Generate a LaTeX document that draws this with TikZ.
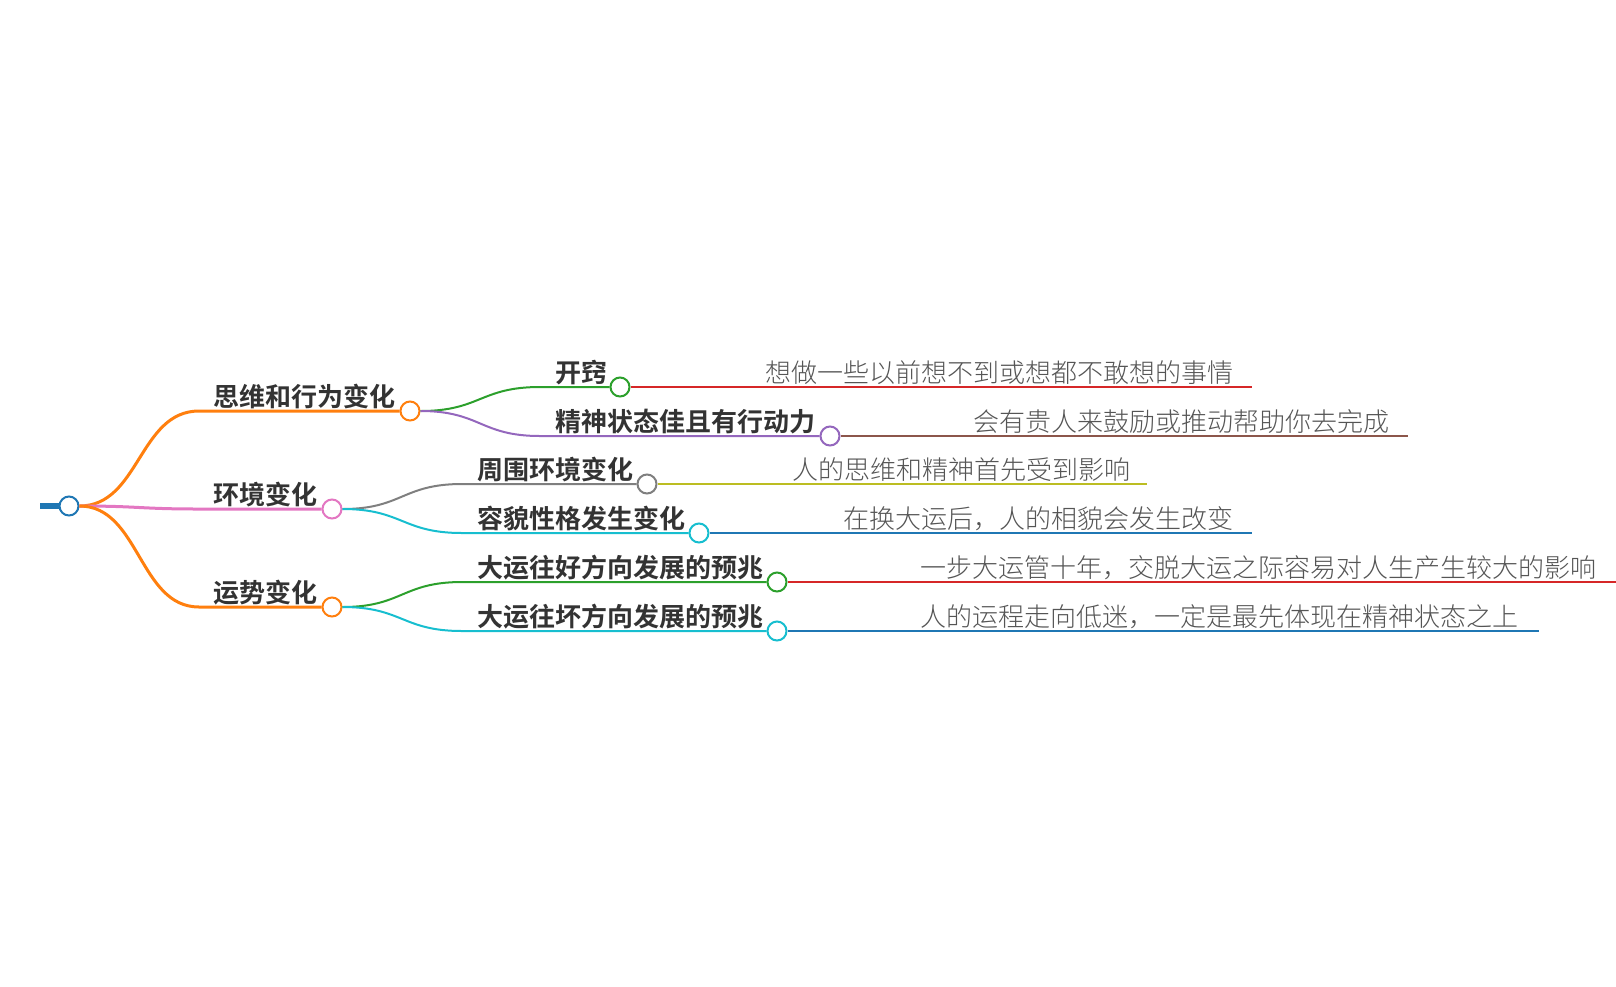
\documentclass[tikz,border=0pt]{standalone}
\usepackage{fontspec}
\setmainfont{Noto Sans CJK SC}[BoldFont={Noto Sans CJK SC Bold}]
\newfontfamily\thincjk{Noto Sans CJK SC Light}

\definecolor{tabblue}{HTML}{1F77B4}
\definecolor{taborange}{HTML}{FF7F0E}
\definecolor{tabgreen}{HTML}{2CA02C}
\definecolor{tabred}{HTML}{D62728}
\definecolor{tabpurple}{HTML}{9467BD}
\definecolor{tabbrown}{HTML}{8C564B}
\definecolor{tabpink}{HTML}{E377C2}
\definecolor{tabgray}{HTML}{7F7F7F}
\definecolor{tabolive}{HTML}{BCBD22}
\definecolor{tabcyan}{HTML}{17BECF}
\definecolor{ink}{HTML}{333333}
\definecolor{softink}{HTML}{555555}

\begin{document}
\begin{tikzpicture}[x=1pt, y=-1pt,
  knot/.style={circle, draw=#1, fill=white, line width=2pt, minimum size=19pt, inner sep=0pt},
  topic/.style={font=\fontsize{26}{30}\selectfont\bfseries, text=ink, inner sep=0pt, anchor=base west},
  note/.style={font=\thincjk\fontsize{26}{30}\selectfont, text=softink, inner sep=0pt, anchor=base west},
  limb/.style={line width=3pt, draw=#1},
  twig/.style={line width=2pt, draw=#1}]

  \useasboundingbox (0,0) rectangle (1616,986);

  % --- 1. 中心节点 ---
  \coordinate (stub) at (40,506);
  \node[knot=tabblue] (root) at (69,506) {};
  \draw[tabblue, line width=6pt] (stub) -- (root.west);

  % --- 2. 一级分支 ---
  \node[knot=taborange] (c1) at (410,411) {};
  \node[knot=tabpink]   (c2) at (332,509) {};
  \node[knot=taborange] (c3) at (332,607) {};
  \coordinate (k1) at (199,411);
  \coordinate (k2) at (199,509);
  \coordinate (k3) at (199,607);

  \draw[limb=taborange] (root.east) .. controls +(60,0) and +(-60,0) .. (k1) -- (c1.west);
  \draw[limb=tabpink]   (root.east) .. controls +(60,0) and +(-60,0) .. (k2) -- (c2.west);
  \draw[limb=taborange] (root.east) .. controls +(60,0) and +(-60,0) .. (k3) -- (c3.west);

  \node[topic] (t1) at (213,406) {思维和行为变化};
  \node[topic] (t2) at (213,504) {环境变化};
  \node[topic] (t3) at (213,602) {运势变化};

  % --- 3. 二级分支 ---
  \node[knot=tabgreen]  (d1) at (620,387) {};
  \node[knot=tabpurple] (d2) at (830,436) {};
  \node[knot=tabgray]   (d3) at (647,484) {};
  \node[knot=tabcyan]   (d4) at (699,533) {};
  \node[knot=tabgreen]  (d5) at (777,582) {};
  \node[knot=tabcyan]   (d6) at (777,631) {};
  \coordinate (m1) at (540,387);
  \coordinate (m2) at (540,436);
  \coordinate (m3) at (462,484);
  \coordinate (m4) at (462,533);
  \coordinate (m5) at (462,582);
  \coordinate (m6) at (462,631);

  \draw[twig=tabgreen]  (c1.east) .. controls +(60,0) and +(-60,0) .. (m1) -- (d1.west);
  \draw[twig=tabpurple] (c1.east) .. controls +(60,0) and +(-60,0) .. (m2) -- (d2.west);
  \draw[twig=tabgray]   (c2.east) .. controls +(60,0) and +(-60,0) .. (m3) -- (d3.west);
  \draw[twig=tabcyan]   (c2.east) .. controls +(60,0) and +(-60,0) .. (m4) -- (d4.west);
  \draw[twig=tabgreen]  (c3.east) .. controls +(60,0) and +(-60,0) .. (m5) -- (d5.west);
  \draw[twig=tabcyan]   (c3.east) .. controls +(60,0) and +(-60,0) .. (m6) -- (d6.west);

  \node[topic] (u1) at (555,382) {开窍};
  \node[topic] (u2) at (555,431) {精神状态佳且有行动力};
  \node[topic] (u3) at (477,479) {周围环境变化};
  \node[topic] (u4) at (477,528) {容貌性格发生变化};
  \node[topic] (u5) at (477,577) {大运往好方向发展的预兆};
  \node[topic] (u6) at (477,626) {大运往坏方向发展的预兆};

  % --- 4. 叶子说明 ---
  \coordinate (e1) at (1252,387);
  \coordinate (e2) at (1408,436);
  \coordinate (e3) at (1147,484);
  \coordinate (e4) at (1252,533);
  \coordinate (e5) at (1616,582);
  \coordinate (e6) at (1539,631);

  \draw[twig=tabred]   (d1.east) -- (e1);
  \draw[twig=tabbrown] (d2.east) -- (e2);
  \draw[twig=tabolive] (d3.east) -- (e3);
  \draw[twig=tabblue]  (d4.east) -- (e4);
  \draw[twig=tabred]   (d5.east) -- (e5);
  \draw[twig=tabblue]  (d6.east) -- (e6);

  \node[note] (v1) at (765,382) {想做一些以前想不到或想都不敢想的事情};
  \node[note] (v2) at (973,431) {会有贵人来鼓励或推动帮助你去完成};
  \node[note] (v3) at (792,479) {人的思维和精神首先受到影响};
  \node[note] (v4) at (843,528) {在换大运后，人的相貌会发生改变};
  \node[note] (v5) at (920,577) {一步大运管十年，交脱大运之际容易对人生产生较大的影响};
  \node[note] (v6) at (920,626) {人的运程走向低迷，一定是最先体现在精神状态之上};

\end{tikzpicture}
\end{document}
